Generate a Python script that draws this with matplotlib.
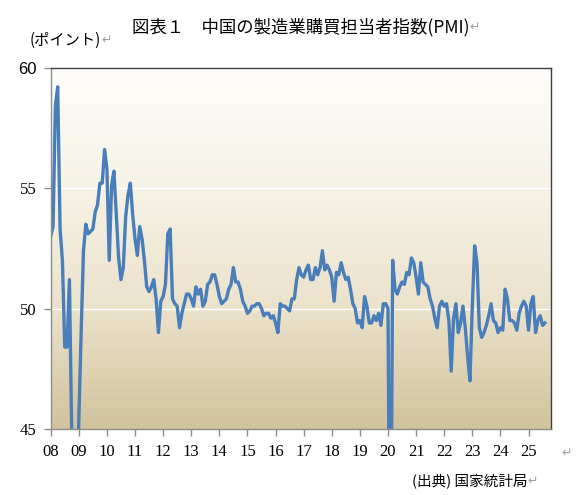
import numpy as np
import matplotlib.pyplot as plt
from matplotlib.colors import LinearSegmentedColormap

# monthly manufacturing PMI, Jan 2008 .. Aug 2025
pmi_2008 = [53.0, 53.4, 58.4, 59.2, 53.3, 52.0, 48.4, 48.4, 51.2, 44.6, 38.8, 41.2]
pmi_2009 = [45.3, 49.0, 52.4, 53.5, 53.1, 53.2, 53.3, 54.0, 54.3, 55.2, 55.2, 56.6]
pmi_2010 = [55.8, 52.0, 55.1, 55.7, 53.9, 52.1, 51.2, 51.7, 53.8, 54.7, 55.2, 53.9]
pmi_2011 = [52.9, 52.2, 53.4, 52.9, 52.0, 50.9, 50.7, 50.9, 51.2, 50.4, 49.0, 50.3]
pmi_2012 = [50.5, 51.0, 53.1, 53.3, 50.4, 50.2, 50.1, 49.2, 49.8, 50.2, 50.6, 50.6]
pmi_2013 = [50.4, 50.1, 50.9, 50.6, 50.8, 50.1, 50.3, 51.0, 51.1, 51.4, 51.4, 51.0]
pmi_2014 = [50.5, 50.2, 50.3, 50.4, 50.8, 51.0, 51.7, 51.1, 51.1, 50.8, 50.3, 50.1]
pmi_2015 = [49.8, 49.9, 50.1, 50.1, 50.2, 50.2, 50.0, 49.7, 49.8, 49.8, 49.6, 49.7]
pmi_2016 = [49.4, 49.0, 50.2, 50.1, 50.1, 50.0, 49.9, 50.4, 50.4, 51.2, 51.7, 51.4]
pmi_2017 = [51.3, 51.6, 51.8, 51.2, 51.2, 51.7, 51.4, 51.7, 52.4, 51.6, 51.8, 51.6]
pmi_2018 = [51.3, 50.3, 51.5, 51.4, 51.9, 51.5, 51.2, 51.3, 50.8, 50.2, 50.0, 49.4]
pmi_2019 = [49.5, 49.2, 50.5, 50.1, 49.4, 49.4, 49.7, 49.5, 49.8, 49.3, 50.2, 50.2]
pmi_2020 = [50.0, 35.7, 52.0, 50.8, 50.6, 50.9, 51.1, 51.0, 51.5, 51.4, 52.1, 51.9]
pmi_2021 = [51.3, 50.6, 51.9, 51.1, 51.0, 50.9, 50.4, 50.1, 49.6, 49.2, 50.1, 50.3]
pmi_2022 = [50.1, 50.2, 49.5, 47.4, 49.6, 50.2, 49.0, 49.4, 50.1, 49.2, 48.0, 47.0]
pmi_2023 = [50.1, 52.6, 51.9, 49.2, 48.8, 49.0, 49.3, 49.7, 50.2, 49.5, 49.4, 49.0]
pmi_2024 = [49.2, 49.1, 50.8, 50.4, 49.5, 49.5, 49.4, 49.1, 49.8, 50.1, 50.3, 50.1]
pmi_2025 = [49.1, 50.2, 50.5, 49.0, 49.5, 49.7, 49.3, 49.4]

year_labels = ['08', '09', '10', '11', '12', '13', '14', '15', '16',
               '17', '18', '19', '20', '21', '22', '23', '24', '25']
y_ticks = [45, 50, 55, 60]

pmi = (pmi_2008 + pmi_2009 + pmi_2010 + pmi_2011 + pmi_2012 + pmi_2013
       + pmi_2014 + pmi_2015 + pmi_2016 + pmi_2017 + pmi_2018 + pmi_2019
       + pmi_2020 + pmi_2021 + pmi_2022 + pmi_2023 + pmi_2024 + pmi_2025)
months = np.arange(len(pmi))

jp = ['Noto Sans CJK JP', 'DejaVu Sans']
serif = 'Liberation Serif'
mark_color = '#a0a0a0'

fig = plt.figure(figsize=(5.78, 4.95), dpi=100)
ax = fig.add_axes([0.0877, 0.1333, 0.8656, 0.7303])

x_max = 213.6
y_min, y_max = 45, 60

# gradient background, light at top, tan at bottom
bg = LinearSegmentedColormap.from_list(
    'bg', [(0.0, '#d2c39d'), (0.33, '#ebe2cb'), (0.66, '#f6f2e5'), (1.0, '#fefdfa')])
grad = np.linspace(0, 1, 256).reshape(-1, 1)
ax.imshow(grad, cmap=bg, origin='lower', aspect='auto',
          extent=[0, x_max, y_min, y_max], zorder=0)

for g in [50, 55]:
    ax.axhline(g, color='white', linewidth=1.0, zorder=1)

ax.plot(months, pmi, color='#4a7ebb', linewidth=2.4, solid_joinstyle='round', zorder=2)

ax.set_xlim(0, x_max)
ax.set_ylim(y_min, y_max)

ax.set_xticks(np.arange(len(year_labels)) * 12)
ax.set_xticklabels(year_labels, fontfamily=serif, fontsize=12)
ax.set_yticks(y_ticks)
ax.set_yticklabels([str(v) for v in y_ticks], fontfamily=serif, fontsize=12)
ax.get_yticklabels()[-1].set_fontfamily('Liberation Sans')

ax.tick_params(axis='both', direction='out', length=5, width=1, color='#8c8c8c', pad=6)
ax.tick_params(axis='y', pad=5)

for side in ['left', 'bottom']:
    ax.spines[side].set_color('#8c8c8c')
for side in ['top', 'right']:
    ax.spines[side].set_color('#404040')
for s in ax.spines.values():
    s.set_linewidth(1.0)

# title and notes
fig.text(0.521, 0.945, '図表１　中国の製造業購買担当者指数(PMI)', ha='center', va='center',
         fontsize=12.5, family=jp)
fig.text(0.812, 0.945, '↵', ha='left', va='center', fontsize=9, color=mark_color, family=jp)
fig.text(0.052, 0.918, '(ポイント)', ha='left', va='center', fontsize=11, family=jp)
fig.text(0.176, 0.918, '↵', ha='left', va='center', fontsize=9, color=mark_color, family=jp)
fig.text(0.712, 0.028, '(出典) 国家統計局', ha='left', va='center', fontsize=10.5, family=jp)
fig.text(0.913, 0.028, '↵', ha='left', va='center', fontsize=9, color=mark_color, family=jp)
fig.text(0.972, 0.084, '↵', ha='left', va='center', fontsize=9, color=mark_color, family=jp)

fig.savefig('out.png', dpi=100)
